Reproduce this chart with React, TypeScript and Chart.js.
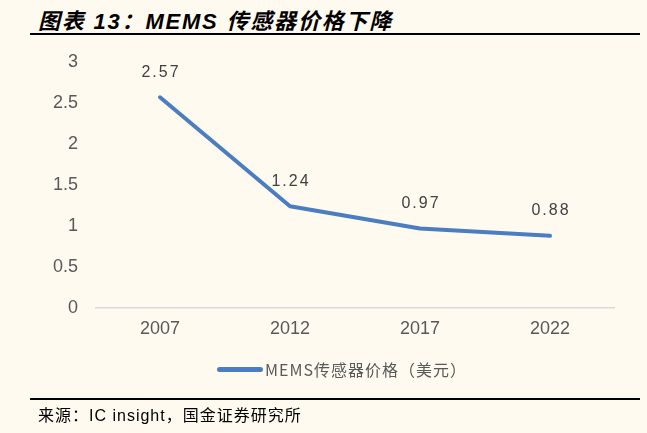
import { useEffect, useRef } from "react";
import { Chart, registerables } from "chart.js";

Chart.register(...registerables);

// datos
const years = ["2007", "2012", "2017", "2022"];
const prices = [2.57, 1.24, 0.97, 0.88];
const yTicks = [0, 0.5, 1, 1.5, 2, 2.5, 3];

const LINE_COLOR = "#4A7EC0";
const BG = "#FFFAF0";
const NARROW = '"Liberation Sans Narrow", "Liberation Sans", Arial, sans-serif';

// etiquetas de valor encima de cada punto
const valueLabels = {
  id: "valueLabels",
  afterDatasetsDraw(chart: any) {
    const { ctx } = chart;
    const meta = chart.getDatasetMeta(0);
    ctx.save();
    ctx.font = '16px "Liberation Sans", Arial, sans-serif';
    (ctx as any).letterSpacing = "2px";
    ctx.fillStyle = "#404040";
    ctx.textAlign = "center";
    ctx.textBaseline = "middle";
    meta.data.forEach((pt: any, i: number) => {
      ctx.fillText(prices[i].toFixed(2), pt.x + 1, pt.y - 25);
    });
    ctx.restore();
  },
};

export default function App() {
  const canvasRef = useRef<HTMLCanvasElement>(null);

  useEffect(() => {
    document.body.style.margin = "0";
    if (!canvasRef.current) return;
    const chart = new Chart(canvasRef.current, {
      type: "line",
      data: {
        labels: years,
        datasets: [
          {
            label: "MEMS传感器价格（美元）",
            data: prices,
            borderColor: LINE_COLOR,
            borderWidth: 4,
            borderCapStyle: "round",
            borderJoinStyle: "round",
            pointRadius: 0,
            tension: 0,
          },
        ],
      },
      options: {
        responsive: false,
        animation: false,
        layout: { padding: { left: 0, right: 32, top: 62, bottom: 0 } },
        plugins: {
          legend: { display: false },
          tooltip: { enabled: false },
        },
        scales: {
          x: {
            offset: true,
            grid: { display: false, drawTicks: false },
            border: { display: false },
            ticks: {
              font: { family: NARROW, size: 18 },
              color: "#595959",
              padding: 10,
            },
            afterFit: (scale: any) => {
              scale.height = 125;
            },
          },
          y: {
            min: 0,
            max: 3,
            afterBuildTicks: (scale: any) => {
              scale.ticks = yTicks.map((v) => ({ value: v }));
            },
            grid: {
              drawTicks: false,
              color: (c: any) => (c.tick && c.tick.value === 0 ? "#D9D9D9" : "rgba(0,0,0,0)"),
              lineWidth: 1.5,
            },
            border: { display: false },
            ticks: {
              font: { family: NARROW, size: 18 },
              color: "#595959",
              padding: 17,
              callback: (v: any) => String(v),
            },
            afterFit: (scale: any) => {
              scale.width = 95;
            },
          },
        },
      },
      plugins: [valueLabels],
    });
    return () => chart.destroy();
  }, []);

  return (
    <div style={{ position: "relative", width: 647, height: 433, background: BG, overflow: "hidden" }}>
      <div
        style={{
          position: "absolute",
          left: 38,
          top: 3,
          fontFamily: '"Liberation Sans", "Noto Sans CJK SC", sans-serif',
          fontWeight: "bold",
          fontStyle: "italic",
          fontSize: 22,
          letterSpacing: 1.8,
          color: "#000",
          whiteSpace: "nowrap",
        }}
      >
        图表 13：MEMS 传感器价格下降
      </div>
      <div style={{ position: "absolute", left: 30, top: 33, width: 610, height: 2, background: "#000" }} />
      <canvas ref={canvasRef} width={647} height={433} style={{ position: "absolute", left: 0, top: 0 }} />
      <div
        style={{
          position: "absolute",
          left: 217,
          top: 357,
          display: "flex",
          alignItems: "center",
          whiteSpace: "nowrap",
        }}
      >
        <span style={{ display: "inline-block", width: 46, height: 5, borderRadius: 3, background: LINE_COLOR }} />
        <span
          style={{
            marginLeft: 2,
            fontFamily: '"Liberation Sans Narrow", "Noto Sans CJK SC", sans-serif',
            fontSize: 16,
            letterSpacing: 1,
            color: "#595959",
          }}
        >
          MEMS传感器价格（美元）
        </span>
      </div>
      <div style={{ position: "absolute", left: 30, top: 398, width: 610, height: 2, background: "#000" }} />
      <div
        style={{
          position: "absolute",
          left: 38,
          top: 402,
          fontFamily: '"Liberation Sans", "Noto Sans CJK SC", sans-serif',
          fontSize: 16,
          letterSpacing: 1,
          color: "#000",
          whiteSpace: "nowrap",
        }}
      >
        来源：IC insight，国金证券研究所
      </div>
    </div>
  );
}
